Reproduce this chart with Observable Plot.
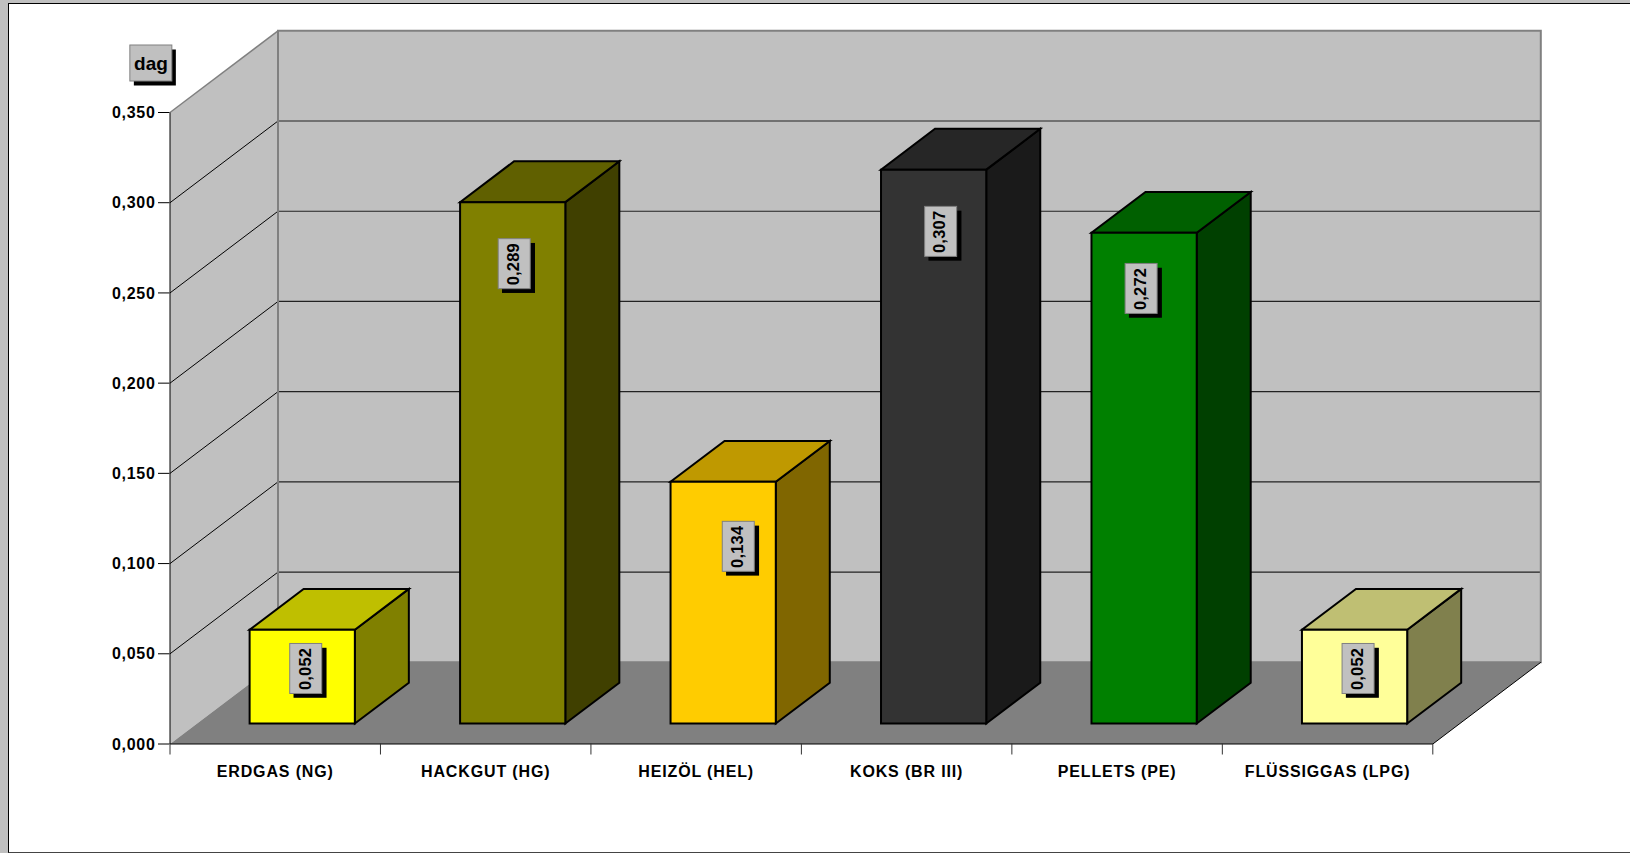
<!DOCTYPE html>
<html>
<head>
<meta charset="utf-8">
<script src="https://cdn.jsdelivr.net/npm/d3@7"></script>
<script src="https://cdn.jsdelivr.net/npm/@observablehq/plot@0.6"></script>
<style>
html,body{margin:0;padding:0;background:#c0c0c0;overflow:hidden;width:1630px;height:853px}
#sheet{position:absolute;left:8px;top:3px;width:1622px;height:848px;background:#fff;border-left:1px solid #000;border-top:1px solid #000;border-bottom:1px solid #444;box-sizing:content-box}
#chart{position:absolute;left:0;top:0}
svg{background:transparent!important}
</style>
</head>
<body>
<div id="sheet"></div>
<div id="chart"></div>
<script>
const categories = ["ERDGAS (NG)","HACKGUT (HG)","HEIZÖL (HEL)","KOKS (BR III)","PELLETS (PE)","FLÜSSIGGAS (LPG)"];
const values = [0.052,0.289,0.134,0.307,0.272,0.052];
const frontColors = ["#ffff00","#808000","#ffcc00","#333333","#008000","#ffff99"];
const topColors = ["#bfbf00","#606000","#bf9900","#262626","#006000","#bfbf73"];
const sideColors = ["#808000","#404000","#806600","#1a1a1a","#004000","#80804d"];
const yTicks = [0,0.05,0.1,0.15,0.2,0.25,0.3,0.35];
const unitName = "dag";

// pixel geometry of the drawing
const X0=169.5, X1=1432.3, Y0=743.5, Y1=112;
const pxX=6/(X1-X0), pxY=0.35/(Y0-Y1);
const shearX=108*pxX, shearY=81.7*pxY;
const P=(u,v,z)=>({x:u+z*shearX,y:v+z*shearY});
const poly=(pts,opts)=>Plot.line(pts,{x:"x",y:"y",curve:"linear-closed",strokeLinejoin:"miter",strokeMiterlimit:4,...opts});
const seg=(a,b,opts)=>Plot.line([a,b],{x:"x",y:"y",strokeLinecap:"butt",...opts});
const fmt=v=>d3.format(".3f")(v).replace(".",",");

const GRAY="#808080", WALL="#c0c0c0", GRID="#222222";
const marks=[];
// walls and floor
marks.push(poly([P(0,0,0),P(0,.35,0),P(0,.35,1),P(0,0,1)],{fill:WALL,stroke:"none"}));
marks.push(poly([P(0,0,1),P(0,.35,1),P(6,.35,1),P(6,0,1)],{fill:WALL,stroke:"none"}));
marks.push(poly([P(0,0,0),P(6,0,0),P(6,0,1),P(0,0,1)],{fill:GRAY,stroke:"none"}));
// grid
for(const t of yTicks.slice(1,-1)){
  marks.push(seg(P(0,t,0),P(0,t,1),{stroke:"#000",strokeWidth:1}));
  marks.push(seg(P(0,t,1),P(6,t,1),{stroke:GRID,strokeWidth:1.2}));
}
// wall borders
marks.push(seg(P(0,.35,0),P(0,.35,1),{stroke:GRAY,strokeWidth:1.5}));
marks.push(poly([P(0,0,1),P(0,.35,1),P(6,.35,1),P(6,0,1)],{fill:"none",stroke:GRAY,strokeWidth:2}));
// frame lines
marks.push(seg(P(0,0,0),P(0,.35,0),{stroke:"#000",strokeWidth:1}));
marks.push(seg(P(0,0,0),P(6,0,0),{stroke:"#000",strokeWidth:1.2}));
marks.push(seg(P(6,0,0),P(6,0,1),{stroke:"#000",strokeWidth:1}));
// bars
values.forEach((v,i)=>{
  const a=i+.25,b=i+.75,z0=.25,z1=.75,st={stroke:"#000",strokeWidth:2};
  marks.push(poly([P(b,0,z0),P(b,0,z1),P(b,v,z1),P(b,v,z0)],{fill:sideColors[i],...st}));
  marks.push(poly([P(a,v,z0),P(b,v,z0),P(b,v,z1),P(a,v,z1)],{fill:topColors[i],...st}));
  marks.push(poly([P(a,0,z0),P(b,0,z0),P(b,v,z0),P(a,v,z0)],{fill:frontColors[i],...st}));
});
// value labels
const labelNudgeX=[4,2,15.6,7.5,-2.5,4], labelDrop=[18.8,41.6,44.6,41.8,35.7,18.8];
const labels=values.map((v,i)=>({
  x:P(i+.5,0,.25).x+labelNudgeX[i]*pxX,
  y:v-labelDrop[i]*pxY,
  t:fmt(v)
}));
const box=(cx,cy,w,h)=>({x1:cx-w/2*pxX,x2:cx+w/2*pxX,y1:cy-h/2*pxY,y2:cy+h/2*pxY});
marks.push(Plot.rect(labels.map(d=>box(d.x+4.3*pxX,d.y-4.3*pxY,33,50)),{x1:"x1",x2:"x2",y1:"y1",y2:"y2",fill:"#000"}));
marks.push(Plot.rect(labels.map(d=>box(d.x,d.y,32,50)),{x1:"x1",x2:"x2",y1:"y1",y2:"y2",fill:WALL,stroke:GRAY,strokeWidth:1}));
marks.push(Plot.text(labels,{x:d=>d.x-1*pxX,y:"y",text:"t",rotate:-90,fill:"#000",fontWeight:"bold",fontSize:16.5,className:"sv"}));
// unit box
const ux=(150.85-X0)*pxX, uy=(Y0-63)*pxY;
marks.push(Plot.rect([box(ux+4*pxX,uy-4.5*pxY,42,36)],{x1:"x1",x2:"x2",y1:"y1",y2:"y2",fill:"#000"}));
marks.push(Plot.rect([box(ux,uy,42,36)],{x1:"x1",x2:"x2",y1:"y1",y2:"y2",fill:WALL,stroke:GRAY,strokeWidth:1}));
marks.push(Plot.text([unitName],{x:()=>ux-.4*pxX,y:()=>uy,text:d=>d,fontWeight:"bold",fontSize:19,fill:"#000"}));
// axes
marks.push(Plot.axisY({ticks:yTicks,tickSize:11.5,tickFormat:()=>"",stroke:"#000",label:null}));
marks.push(Plot.axisY({ticks:yTicks,tickFormat:fmt,tickSize:0,tickPadding:14.5,dy:.5,fontWeight:"bold",fontSize:16,fill:"#000",label:null,className:"sp"}));
marks.push(Plot.axisX({ticks:[0,1,2,3,4,5,6],tickSize:11,tickFormat:()=>"",stroke:"#333",label:null}));
marks.push(Plot.axisX({ticks:categories.map((c,i)=>i+.5),tickSize:0,tickPadding:21.5,tickFormat:t=>categories[t-.5],fontWeight:"bold",fontSize:16,fill:"#000",label:null,className:"sc"}));

const plot=Plot.plot({
  width:1630,height:853,
  marginLeft:X0,marginRight:1630-1540.3,marginTop:30,marginBottom:853-Y0,
  x:{type:"linear",domain:[0,6],range:[X0,X1]},
  y:{type:"linear",domain:[0,.35],range:[Y0,Y1]},
  style:{fontFamily:"'Liberation Sans',Arial,sans-serif",background:"transparent",color:"#000"},
  marks
});
document.getElementById("chart").appendChild(plot);
const spacing=(cls,v)=>plot.querySelectorAll(cls+","+cls+" text").forEach(n=>n.style.letterSpacing=v);
spacing(".sp","0.7px");spacing(".sc","0.85px");spacing(".sv","0.2px");
</script>
</body>
</html>
